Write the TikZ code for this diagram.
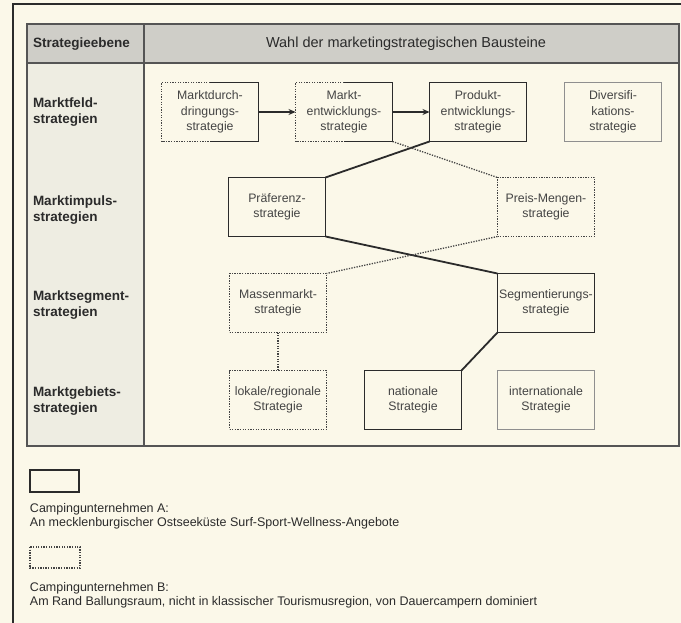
\documentclass[tikz,border=0pt]{standalone}
\usepackage{fontspec}
\setmainfont{Liberation Sans}
\usetikzlibrary{arrows.meta}
\definecolor{cfbf8e9}{RGB}{251,248,233}
\definecolor{ccfcecA}{RGB}{207,206,200}
\definecolor{ceeede2}{RGB}{238,237,226}
\definecolor{c555555}{RGB}{85,85,85}
\definecolor{c444444}{RGB}{68,68,68}
\definecolor{c2b2b2b}{RGB}{43,43,43}
\definecolor{c8f8f8f}{RGB}{143,143,143}

\begin{document}
\begin{tikzpicture}[y=1pt,x=1pt,yscale=-1, inner sep=0pt, outer sep=0pt,
  boxtext/.style={align=center, minimum width=97pt, minimum height=59pt,
    text=c444444, font=\fontsize{12.3}{15.5}\selectfont},
  firmaA/.style={draw=c2b2b2b, line width=1.8pt},
  firmaB/.style={draw=c444444, line width=1.3pt, dash pattern=on 1.3pt off 1.3pt},
  neutral/.style={draw=c8f8f8f, line width=0.9pt},
  ebenetext/.style={anchor=west, align=left, text=c2b2b2b,
    font=\bfseries\fontsize{13.5}{16.5}\selectfont},
  kopftext/.style={text=c2b2b2b, font=\fontsize{14.5}{17}\selectfont},
  legtext/.style={anchor=north west, align=left, text=c2b2b2b,
    font=\fontsize{12.5}{14}\selectfont},
  pfeil/.style={draw=c2b2b2b, line width=1.8pt, -{Stealth[length=7pt,width=6pt]}}]

  % page and table
  \path[fill=cfbf8e9] (0,0) rectangle (681,623);
  \useasboundingbox (0,0) rectangle (681,623);
  \path[draw=c2b2b2b, line width=1.2pt] (13,623) -- (13,4) -- (681,4);
  \path[fill=ceeede2] (27,63) rectangle (144,446);
  \path[fill=ccfcecA] (27,24) rectangle (679,63);
  \path[draw=c555555, line width=1.3pt] (27,24) rectangle (679,446);
  \path[draw=c555555, line width=1.3pt] (144,24) -- (144,446);
  \path[draw=c555555, line width=1.3pt] (27,63) -- (679,63);

  % header and levels
  \path (33,44) node[ebenetext] (text-ebene) {Strategieebene};
  \path (406,44) node[kopftext] (text-kopf)
    {Wahl der marketingstrategischen Bausteine};
  \path (33,112) node[ebenetext] (text-marktfeld) {Marktfeld-\\strategien};
  \path (33,210) node[ebenetext] (text-marktimpuls) {Marktimpuls-\\strategien};
  \path (33,305) node[ebenetext] (text-marktsegment) {Marktsegment-\\strategien};
  \path (33,401) node[ebenetext] (text-marktgebiet) {Marktgebiets-\\strategien};

  % Marktfeld
  \path (210,112) node[boxtext] (durchdringung)
    {Marktdurch-\\dringungs-\\strategie};
  \path (344,112) node[boxtext] (entwicklung)
    {Markt-\\entwicklungs-\\strategie};
  \path (478,112) node[boxtext, firmaA] (produkt)
    {Produkt-\\entwicklungs-\\strategie};
  \path (613,112) node[boxtext, neutral] (diversifikation)
    {Diversifi-\\kations-\\strategie};
  \path[firmaB] (durchdringung.north) -- (durchdringung.north west) --
    (durchdringung.south west) -- (durchdringung.south);
  \path[firmaA] (durchdringung.north) -- (durchdringung.north east) --
    (durchdringung.south east) -- (durchdringung.south);
  \path[firmaB] (entwicklung.north) -- (entwicklung.north west) --
    (entwicklung.south west) -- (entwicklung.south);
  \path[firmaA] (entwicklung.north) -- (entwicklung.north east) --
    (entwicklung.south east) -- (entwicklung.south);

  % Marktimpuls
  \path (277,207) node[boxtext, firmaA] (praeferenz) {Präferenz-\\strategie};
  \path (546,207) node[boxtext, firmaB] (preismengen)
    {Preis-Mengen-\\strategie};

  % Marktsegment
  \path (278,303) node[boxtext, firmaB] (massenmarkt)
    {Massenmarkt-\\strategie};
  \path (546,303) node[boxtext, firmaA] (segmentierung)
    {Segmentierungs-\\strategie};

  % Marktgebiet
  \path (278,400) node[boxtext, firmaB] (lokal) {lokale/regionale\\Strategie};
  \path (413,400) node[boxtext, firmaA] (national) {nationale\\Strategie};
  \path (546,400) node[boxtext, neutral] (international)
    {internationale\\Strategie};

  % connections
  \path[pfeil] (durchdringung.east) -- (entwicklung.west);
  \path[pfeil] (entwicklung.east) -- (produkt.west);
  \path[firmaA] (produkt.south west) -- (praeferenz.north east);
  \path[firmaB] (entwicklung.south east) -- (preismengen.north west);
  \path[firmaA] (praeferenz.south east) -- (segmentierung.north west);
  \path[firmaB] (preismengen.south west) -- (massenmarkt.north east);
  \path[firmaB] (massenmarkt.south) -- (lokal.north);
  \path[firmaA] (segmentierung.south west) -- (national.north east);

  % legend
  \path[firmaA, line width=1.5pt] (30,470) rectangle (79,492);
  \path (30,503) node[legtext] (text-firma-a)
    {Campingunternehmen A:\\An mecklenburgischer Ostseeküste
    Surf-Sport-Wellness-Angebote};
  \path[firmaB] (30,547) rectangle (80,568);
  \path (30,582) node[legtext] (text-firma-b)
    {Campingunternehmen B:\\Am Rand Ballungsraum, nicht in klassischer
    Tourismusregion, von Dauercampern dominiert};
\end{tikzpicture}
\end{document}
